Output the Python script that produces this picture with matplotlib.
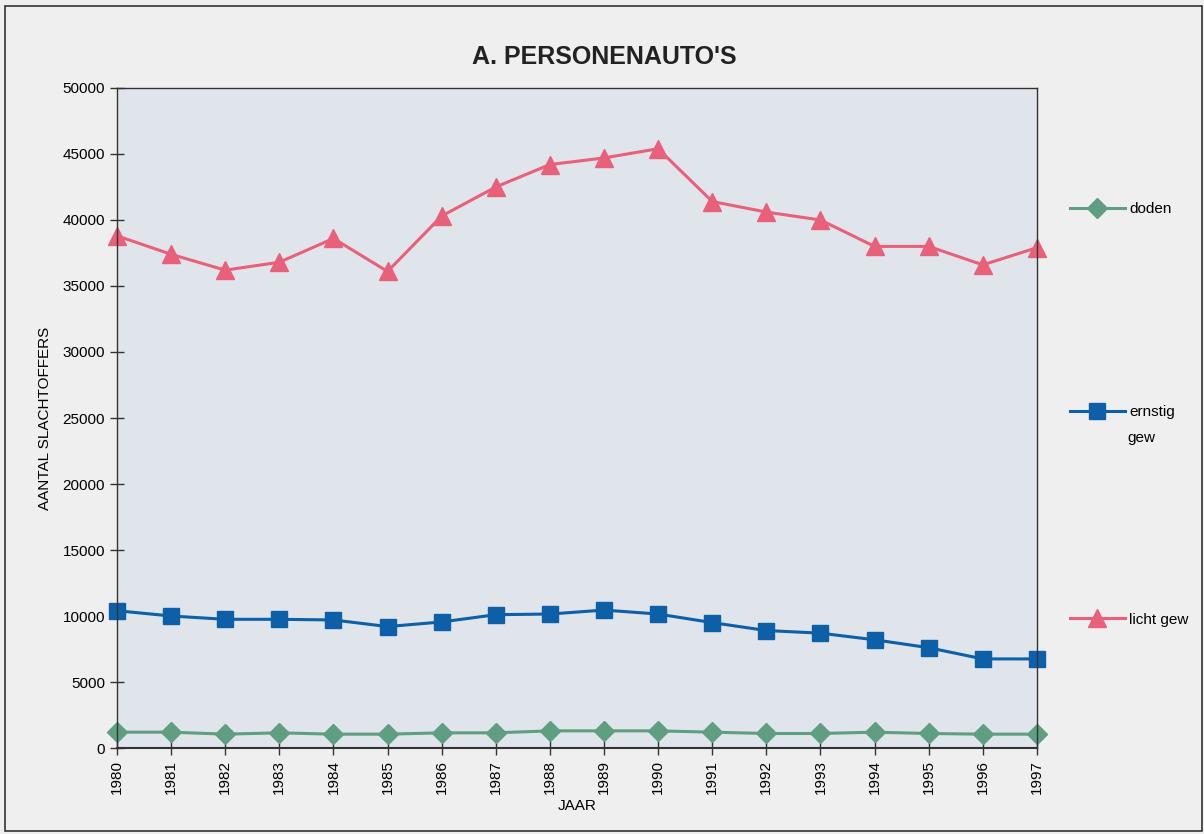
import matplotlib.pyplot as plt
from matplotlib.patches import Rectangle

plt.rcParams['font.family'] = ['Liberation Sans', 'DejaVu Sans']

jaren = list(range(1980, 1998))
doden = [1200, 1200, 1050, 1150, 1050, 1050, 1150, 1150, 1300, 1300,
         1300, 1200, 1100, 1100, 1200, 1100, 1050, 1050]
ernstig = [10400, 10000, 9750, 9750, 9700, 9200, 9550, 10100, 10150, 10450,
           10150, 9500, 8900, 8700, 8200, 7600, 6750, 6750]
licht = [38800, 37400, 36200, 36800, 38600, 36100, 40300, 42500, 44200, 44700,
         45400, 41400, 40600, 40000, 38000, 38000, 36600, 37900]
y_ticks = list(range(0, 50001, 5000))

fig = plt.figure(figsize=(12.04, 8.34), dpi=100, facecolor='#efefef')
ax = fig.add_axes([0.0972, 0.1031, 0.764, 0.7914])
ax.set_facecolor('#dfe5ea')

# rand om de hele figuur
fig.add_artist(Rectangle((0.004, 0.003), 0.994, 0.99, transform=fig.transFigure,
                         fill=False, edgecolor='#333333', linewidth=1.2))

l1, = ax.plot(jaren, doden, color='#5f9e80', marker='D', markersize=10, linewidth=2.2)
l2, = ax.plot(jaren, ernstig, color='#0d5fa8', marker='s', markersize=12, linewidth=2.2)
l3, = ax.plot(jaren, licht, color='#e8607a', marker='^', markersize=13, linewidth=2.2)
for l in (l1, l2, l3):
    l.set_clip_on(False)

ax.set_xlim(1980, 1997)
ax.set_ylim(0, 50000)
ax.set_xticks(jaren)
ax.set_xticklabels([str(j) for j in jaren], rotation=90, fontsize=11)
ax.set_yticks(y_ticks)
ax.set_yticklabels([str(v) for v in y_ticks], fontsize=11)
ax.tick_params(direction='inout', length=10, width=1, color='#333333')
for s in ax.spines.values():
    s.set_color('#333333')
    s.set_linewidth(1)
ax.spines['bottom'].set_linewidth(1.5)

ax.set_xlabel('JAAR', fontsize=11, labelpad=4)
ax.set_ylabel('AANTAL SLACHTOFFERS', fontsize=11, labelpad=8)
fig.text(0.502, 0.932, "A. PERSONENAUTO'S", ha='center', va='center',
         fontsize=18, fontweight='bold', color='#222222')

# legenda: drie losse items rechts
for line, label, y in [(l1, 'doden', 0.749), (l2, 'ernstig', 0.506), (l3, 'licht gew', 0.257)]:
    fig.legend([line], [label], loc='center left', bbox_to_anchor=(0.877, y),
               frameon=False, fontsize=11, handlelength=3.6, handletextpad=0.3)
fig.text(0.9365, 0.475, 'gew', ha='left', va='center', fontsize=11)

fig.savefig('out.png', dpi=100, facecolor=fig.get_facecolor())
